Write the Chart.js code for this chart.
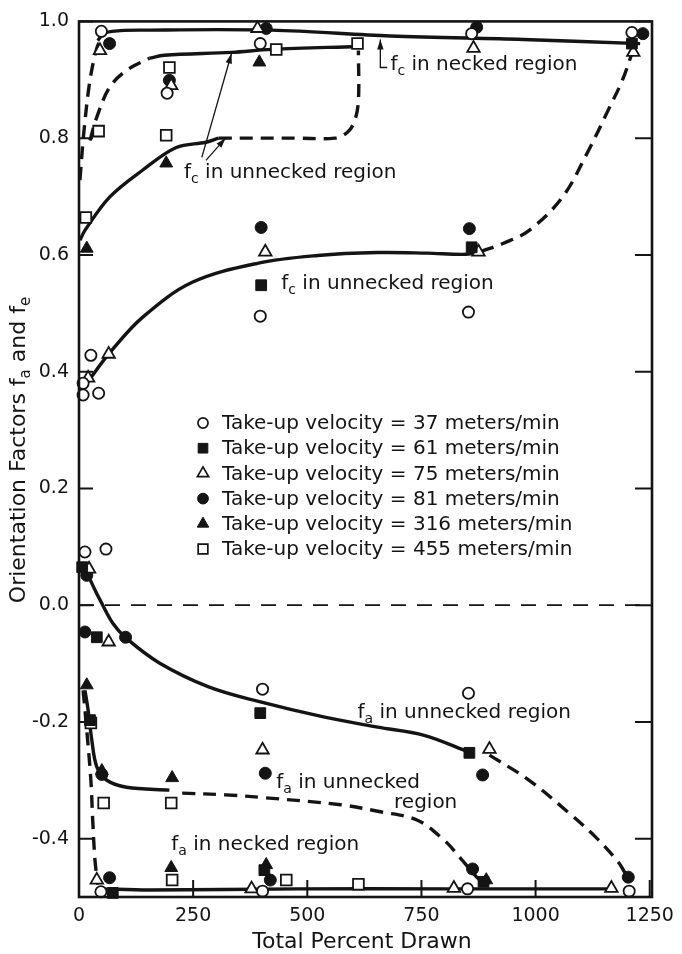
<!DOCTYPE html>
<html>
<head>
<meta charset="utf-8">
<script src="https://cdn.jsdelivr.net/npm/chart.js"></script>
<style>
  html, body { margin: 0; padding: 0; background: #ffffff; }
  #wrap { width: 682px; height: 954px; position: relative; }
  canvas { display: block; }
</style>
</head>
<body>
<div id="wrap"><canvas id="chart" width="682" height="954"></canvas></div>
<script>
const INK = '#141414';
const FONT = '"DejaVu Sans", "Liberation Sans", sans-serif';

// ---- axis ticks ----
const xTicks = [0, 250, 500, 750, 1000, 1250];
const yTicks = [-0.4, -0.2, 0.0, 0.2, 0.4, 0.6, 0.8, 1.0];

// ---- measured orientation factors, one pair of arrays per take-up velocity ----
const v37X  = [49, 397, 193, 860, 1211, 26, 9, 9, 43, 397, 853, 13, 59, 402, 853, 48, 402, 851, 1205];
const v37Y  = [0.983, 0.962, 0.877, 0.979, 0.981, 0.428, 0.380, 0.360, 0.363, 0.495, 0.502, 0.091, 0.096, -0.144, -0.151, -0.491, -0.490, -0.486, -0.490];
const v61X  = [1211, 860, 399, 7, 39, 397, 24, 855, 74, 406, 886];
const v61Y  = [0.962, 0.613, 0.548, 0.065, -0.055, -0.185, -0.197, -0.253, -0.493, -0.454, -0.474];
const v75X  = [46, 391, 202, 864, 1214, 408, 875, 20, 65, 22, 65, 402, 899, 39, 378, 821, 1166];
const v75Y  = [0.950, 0.988, 0.890, 0.954, 0.947, 0.605, 0.605, 0.389, 0.430, 0.062, -0.063, -0.248, -0.247, -0.471, -0.486, -0.485, -0.485];
const v81X  = [67, 410, 198, 871, 1235, 399, 855, 17, 13, 102, 408, 884, 50, 67, 419, 862, 1203];
const v81Y  = [0.962, 0.988, 0.899, 0.990, 0.979, 0.647, 0.645, 0.051, -0.046, -0.055, -0.288, -0.291, -0.290, -0.467, -0.471, -0.452, -0.466];
const v316X = [395, 191, 17, 17, 204, 50, 202, 410, 892];
const v316Y = [0.930, 0.757, 0.611, -0.137, -0.296, -0.284, -0.450, -0.445, -0.471];
const v455X = [610, 432, 198, 43, 191, 15, 26, 54, 202, 204, 454, 612];
const v455Y = [0.962, 0.952, 0.921, 0.812, 0.805, 0.664, -0.202, -0.339, -0.339, -0.471, -0.471, -0.478];

// ---- fitted curves ----
// f_c in the necked region
const fcNeckDashX = [2, 11, 24, 39, 50];
const fcNeckDashY = [0.728, 0.813, 0.899, 0.954, 0.972];
const fcNeckX = [41, 54, 72, 132, 421, 682, 973, 1229];
const fcNeckY = [0.967, 0.979, 0.983, 0.985, 0.985, 0.975, 0.969, 0.962];
// f_c in the unnecked region, upper branch
const fcUn1DashX = [24, 39, 67, 104, 154];
const fcUn1DashY = [0.796, 0.836, 0.887, 0.916, 0.937];
const fcUn1X = [154, 187, 334, 421, 610];
const fcUn1Y = [0.937, 0.942, 0.947, 0.952, 0.957];
// f_c in the unnecked region, lower branch
const fcUn2X = [2, 13, 67, 139, 213, 278, 306];
const fcUn2Y = [0.625, 0.642, 0.699, 0.745, 0.784, 0.793, 0.800];
const fcUn2DashX = [306, 480, 560, 588, 604, 612, 612];
const fcUn2DashY = [0.800, 0.800, 0.800, 0.810, 0.830, 0.865, 0.950];
// f_c in the unnecked region, middle curve
const fcMidX = [17, 67, 139, 248, 393, 523, 654, 762, 849, 881];
const fcMidY = [0.380, 0.432, 0.493, 0.553, 0.586, 0.599, 0.604, 0.603, 0.601, 0.606];
const fcMidDashX = [881, 930, 986, 1059, 1116, 1159, 1190, 1211];
const fcMidDashY = [0.606, 0.620, 0.642, 0.699, 0.779, 0.848, 0.899, 0.945];
// f_a in the unnecked region, upper curve
const faUn1X = [20, 35, 46, 74, 104, 176, 284, 393, 538, 654, 756, 855];
const faUn1Y = [0.051, 0.026, 0.009, -0.031, -0.057, -0.099, -0.140, -0.165, -0.192, -0.209, -0.223, -0.252];
const faUn1DashX = [899, 986, 1073, 1131, 1181, 1196];
const faUn1DashY = [-0.257, -0.300, -0.356, -0.397, -0.440, -0.459];
// f_a in the unnecked region, lower curve
const faUn2X = [13, 20, 28, 39, 61, 104, 198];
const faUn2Y = [-0.146, -0.180, -0.231, -0.277, -0.300, -0.312, -0.317];
const faUn2DashX = [226, 321, 408, 573, 660, 740, 799, 834, 871, 886];
const faUn2DashY = [-0.322, -0.325, -0.330, -0.342, -0.354, -0.368, -0.402, -0.432, -0.466, -0.476];
// f_a in the necked region
const faNeckDashX = [9, 17, 26, 30, 35, 41];
const faNeckDashY = [-0.146, -0.214, -0.300, -0.368, -0.437, -0.479];
const faNeckX = [46, 154, 480, 805, 1175];
const faNeckY = [-0.486, -0.488, -0.486, -0.486, -0.486];
// zero reference
const zeroX = [0, 1255];
const zeroY = [0, 0];

// ---- curve labels (data coordinates; "_" marks a subscript letter) ----
const noteText = ['f_c in necked region', 'f_c in unnecked region', 'f_c in unnecked region',
                  'f_a in unnecked region', 'f_a in unnecked', 'region', 'f_a in necked region'];
const noteX = [682, 230, 443, 610, 432, 690, 202];
const noteY = [0.925, 0.740, 0.551, -0.185, -0.305, -0.339, -0.411];
// leader arrows, tip is the last vertex
const arrowPaths = [
  [[675, 0.921], [660, 0.921], [660, 0.969]],
  [[269, 0.767], [334, 0.945]],
  [[278, 0.762], [321, 0.800]]
];

const pts = (xs, ys) => xs.map((x, i) => ({ x: x, y: ys[i] }));

const markerSets = [
  { label: 'Take-up velocity = 37 meters/min',  xs: v37X,  ys: v37Y,  style: 'circle',   filled: false, r: 5.6 },
  { label: 'Take-up velocity = 61 meters/min',  xs: v61X,  ys: v61Y,  style: 'rect',     filled: true,  r: 7.6 },
  { label: 'Take-up velocity = 75 meters/min',  xs: v75X,  ys: v75Y,  style: 'triangle', filled: false, r: 7.2 },
  { label: 'Take-up velocity = 81 meters/min',  xs: v81X,  ys: v81Y,  style: 'circle',   filled: true,  r: 6.0 },
  { label: 'Take-up velocity = 316 meters/min', xs: v316X, ys: v316Y, style: 'triangle', filled: true,  r: 7.4 },
  { label: 'Take-up velocity = 455 meters/min', xs: v455X, ys: v455Y, style: 'rect',     filled: false, r: 7.6 }
];

const curveSets = [
  { xs: fcNeckX, ys: fcNeckY, dash: false }, { xs: fcNeckDashX, ys: fcNeckDashY, dash: true },
  { xs: fcUn1X, ys: fcUn1Y, dash: false },   { xs: fcUn1DashX, ys: fcUn1DashY, dash: true },
  { xs: fcUn2X, ys: fcUn2Y, dash: false },   { xs: fcUn2DashX, ys: fcUn2DashY, dash: true },
  { xs: fcMidX, ys: fcMidY, dash: false },   { xs: fcMidDashX, ys: fcMidDashY, dash: true },
  { xs: faUn1X, ys: faUn1Y, dash: false },   { xs: faUn1DashX, ys: faUn1DashY, dash: true },
  { xs: faUn2X, ys: faUn2Y, dash: false },   { xs: faUn2DashX, ys: faUn2DashY, dash: true },
  { xs: faNeckX, ys: faNeckY, dash: false }, { xs: faNeckDashX, ys: faNeckDashY, dash: true }
];

const datasets = [];
markerSets.forEach(m => datasets.push({
  label: m.label,
  data: pts(m.xs, m.ys),
  showLine: false,
  pointStyle: m.style,
  pointRadius: m.r,
  pointHoverRadius: m.r,
  pointBackgroundColor: m.filled ? INK : '#ffffff',
  pointBorderColor: INK,
  pointBorderWidth: m.filled ? 1 : 1.8,
  clip: false,
  _marker: m
}));
curveSets.forEach(c => datasets.push({
  data: pts(c.xs, c.ys),
  showLine: true,
  pointRadius: 0,
  pointHoverRadius: 0,
  borderColor: INK,
  borderWidth: 3.4,
  borderDash: c.dash ? [13, 8] : [],
  borderCapStyle: 'butt',
  tension: 0.35,
  fill: false,
  clip: false
}));
datasets.push({
  data: pts(zeroX, zeroY),
  showLine: true,
  pointRadius: 0,
  borderColor: INK,
  borderWidth: 1.6,
  borderDash: [15, 11],
  tension: 0,
  fill: false
});

// marker shapes shared with the key
function shapePath(ctx, style, x, y, r) {
  ctx.beginPath();
  if (style === 'circle') {
    ctx.arc(x, y, r, 0, Math.PI * 2);
  } else if (style === 'rect') {
    const s = Math.SQRT1_2 * r;
    ctx.rect(x - s, y - s, 2 * s, 2 * s);
  } else {
    const a = Math.PI * 2 / 3;
    ctx.moveTo(x, y - r);
    ctx.lineTo(x + Math.sin(a) * r, y - Math.cos(a) * r);
    ctx.lineTo(x + Math.sin(2 * a) * r, y - Math.cos(2 * a) * r);
  }
  ctx.closePath();
}

// text with single-letter subscripts written as "_x"
function richText(ctx, str, x, y, size, align) {
  const parts = [];
  for (let i = 0; i < str.length; i++) {
    if (str[i] === '_') { parts.push({ t: str[i + 1], sub: true }); i++; }
    else if (parts.length && !parts[parts.length - 1].sub) parts[parts.length - 1].t += str[i];
    else parts.push({ t: str[i], sub: false });
  }
  const sub = Math.round(size * 0.7);
  let w = 0;
  parts.forEach(p => { ctx.font = (p.sub ? sub : size) + 'px ' + FONT; p.w = ctx.measureText(p.t).width; w += p.w; });
  let cx = align === 'center' ? x - w / 2 : x;
  ctx.textBaseline = 'middle';
  ctx.textAlign = 'left';
  parts.forEach(p => {
    ctx.font = (p.sub ? sub : size) + 'px ' + FONT;
    ctx.fillText(p.t, cx, p.sub ? y + size * 0.33 : y);
    cx += p.w;
  });
}

const decorations = {
  id: 'decorations',
  afterDatasetsDraw(chart) {
    const ctx = chart.ctx;
    const xs = chart.scales.x, ys = chart.scales.y;
    const a = chart.chartArea;
    ctx.save();
    ctx.strokeStyle = INK;
    ctx.fillStyle = INK;

    // frame
    ctx.lineWidth = 2.6;
    ctx.setLineDash([]);
    ctx.strokeRect(a.left, a.top, a.right - a.left, a.bottom - a.top);

    // inward ticks
    ctx.lineWidth = 2;
    ctx.beginPath();
    yTicks.forEach(v => {
      const py = ys.getPixelForValue(v);
      ctx.moveTo(a.left, py); ctx.lineTo(a.left + 14, py);
      ctx.moveTo(a.right, py); ctx.lineTo(a.right - 17, py);
    });
    xTicks.forEach(v => {
      const px = xs.getPixelForValue(v);
      if (px > a.left + 2 && px < a.right - 2) { ctx.moveTo(px, a.bottom); ctx.lineTo(px, a.bottom - 17); }
    });
    ctx.stroke();

    // leader arrows
    ctx.lineWidth = 1.3;
    arrowPaths.forEach(path => {
      const p = path.map(q => [xs.getPixelForValue(q[0]), ys.getPixelForValue(q[1])]);
      ctx.beginPath();
      ctx.moveTo(p[0][0], p[0][1]);
      for (let i = 1; i < p.length; i++) ctx.lineTo(p[i][0], p[i][1]);
      ctx.stroke();
      const [x1, y1] = p[p.length - 2], [x2, y2] = p[p.length - 1];
      const ang = Math.atan2(y2 - y1, x2 - x1);
      const L = 10, W = 3.2;
      ctx.beginPath();
      ctx.moveTo(x2, y2);
      ctx.lineTo(x2 - L * Math.cos(ang) + W * Math.sin(ang), y2 - L * Math.sin(ang) - W * Math.cos(ang));
      ctx.lineTo(x2 - L * Math.cos(ang) - W * Math.sin(ang), y2 - L * Math.sin(ang) + W * Math.cos(ang));
      ctx.closePath();
      ctx.fill();
    });

    // curve labels
    noteText.forEach((t, i) => {
      richText(ctx, t, xs.getPixelForValue(noteX[i]), ys.getPixelForValue(noteY[i]), 20, 'left');
    });

    // key
    const keyX = 203, keyY = 423, keyStep = 25.2;
    chart.data.datasets.forEach((ds, i) => {
      if (!ds._marker) return;
      const m = ds._marker;
      const py = keyY + i * keyStep;
      shapePath(ctx, m.style, keyX, py, m.r * 0.9);
      ctx.fillStyle = m.filled ? INK : '#ffffff';
      ctx.fill();
      ctx.lineWidth = m.filled ? 1 : 1.7;
      ctx.stroke();
      ctx.fillStyle = INK;
      ctx.font = '20px ' + FONT;
      ctx.textAlign = 'left';
      ctx.textBaseline = 'middle';
      ctx.fillText(ds.label, keyX + 19, py + 1);
    });

    // axis titles
    richText(ctx, 'Total Percent Drawn', 362, 942, 22, 'center');
    ctx.translate(19, 450);
    ctx.rotate(-Math.PI / 2);
    richText(ctx, 'Orientation Factors f_a and f_e', 0, 0, 22, 'center');
    ctx.restore();
  }
};

new Chart(document.getElementById('chart'), {
  type: 'scatter',
  data: { datasets: datasets },
  options: {
    responsive: false,
    animation: false,
    devicePixelRatio: 1,
    layout: { padding: { left: 0, top: 21, right: 25, bottom: 0 } },
    plugins: { legend: { display: false }, tooltip: { enabled: false } },
    scales: {
      x: {
        type: 'linear', min: 0, max: 1255,
        afterBuildTicks: s => { s.ticks = xTicks.map(v => ({ value: v })); },
        afterFit: s => { s.height = 57; },
        grid: { display: false, drawTicks: false },
        border: { display: false },
        ticks: { color: INK, font: { family: FONT, size: 19 }, padding: 8, maxRotation: 0, autoSkip: false,
                 callback: v => String(v) }
      },
      y: {
        type: 'linear', min: -0.5, max: 1.0,
        afterBuildTicks: s => { s.ticks = yTicks.map(v => ({ value: v })); },
        afterFit: s => { s.width = 79; },
        grid: { display: false, drawTicks: false },
        border: { display: false },
        ticks: { color: INK, font: { family: FONT, size: 19 }, padding: 10, autoSkip: false,
                 callback: v => Number(v).toFixed(1) }
      }
    }
  },
  plugins: [decorations]
});
</script>
</body>
</html>
